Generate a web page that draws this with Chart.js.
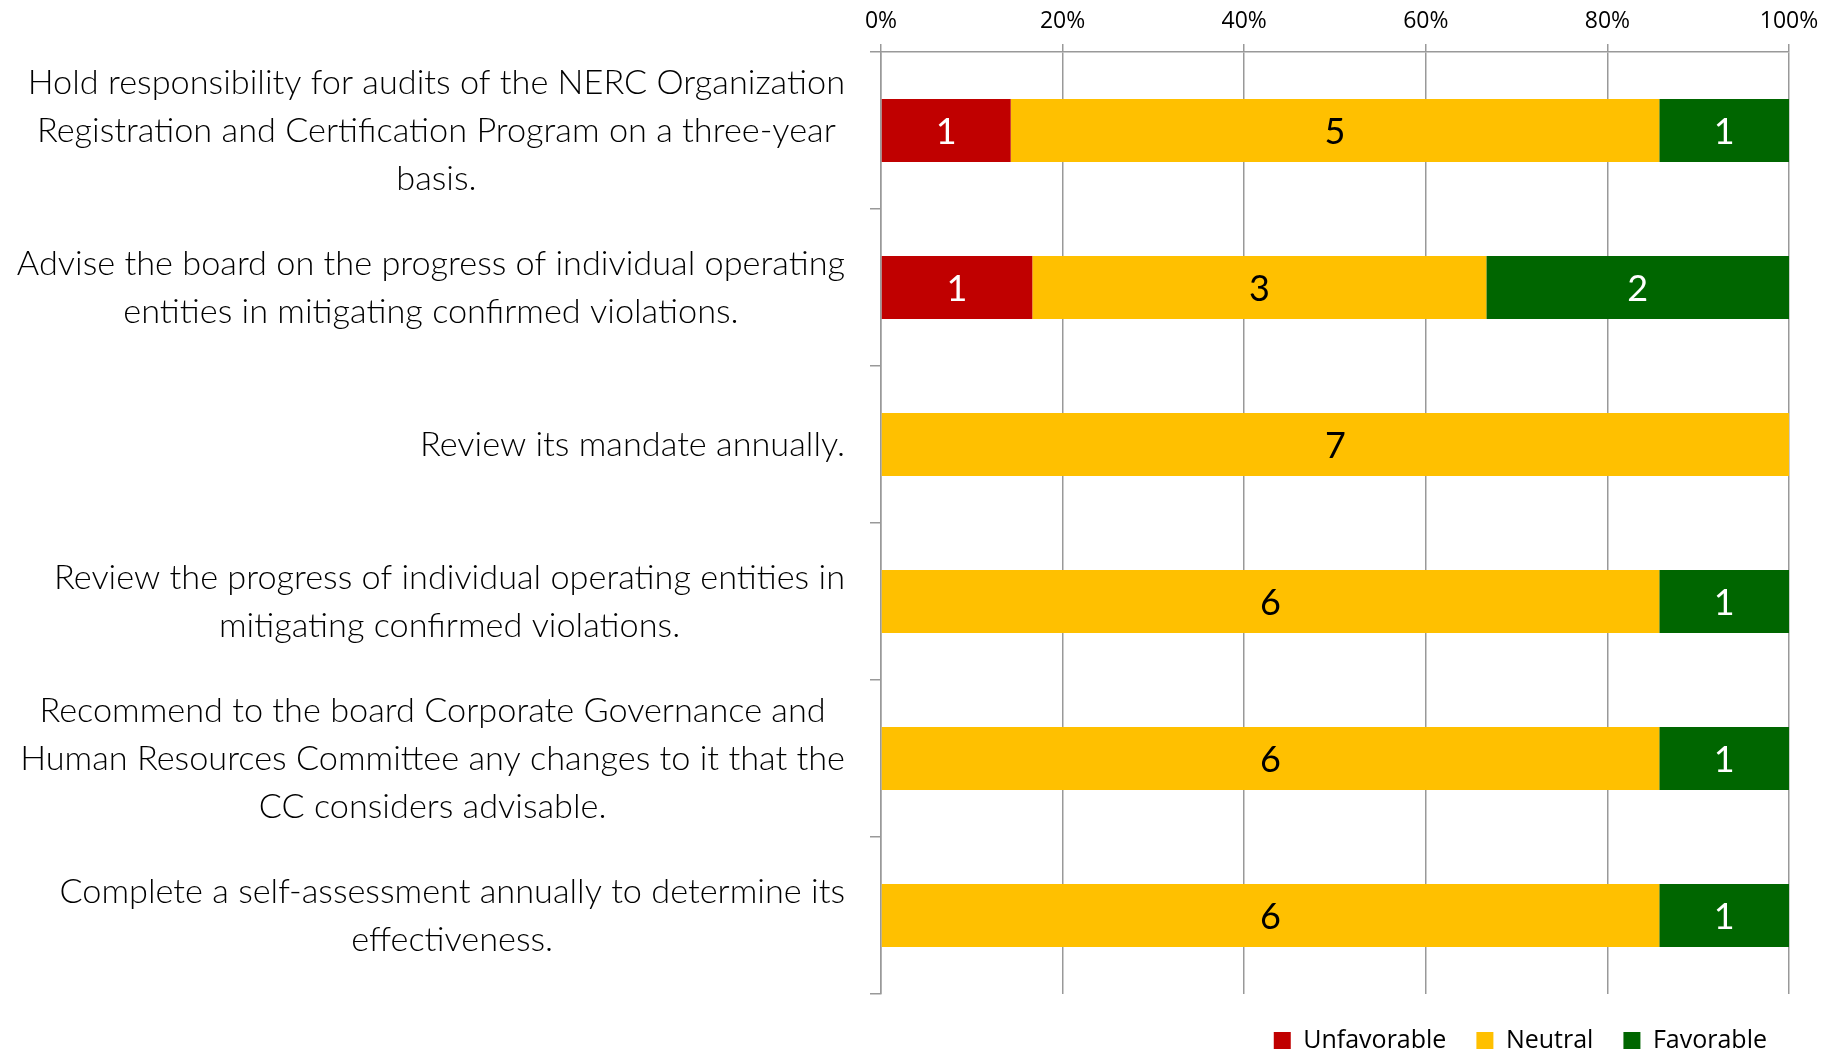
<!DOCTYPE html>
<html>
<head>
<meta charset="utf-8">
<script src="https://cdn.jsdelivr.net/npm/chart.js@4/dist/chart.umd.min.js"></script>
<style>
  html, body { margin: 0; padding: 0; background: #fff; }
  canvas { display: block; }
</style>
</head>
<body>
<canvas id="chart" width="1837" height="1055"></canvas>
<script>
// categories, one array of lines per bar
const categories = [
  ["Hold responsibility for audits of the NERC Organization", "Registration and Certification Program on a three-year", "basis."],
  ["Advise the board on the progress of individual operating", "entities in mitigating confirmed violations."],
  ["Review its mandate annually."],
  ["Review the progress of individual operating entities in", "mitigating confirmed violations."],
  ["Recommend to the board Corporate Governance and", "Human Resources Committee any changes to it that the", "CC considers advisable."],
  ["Complete a self-assessment annually to determine its", "effectiveness."]
];

// response counts
const unfavorable = [1, 1, 0, 0, 0, 0];
const neutral     = [5, 3, 7, 6, 6, 6];
const favorable   = [1, 2, 0, 1, 1, 1];

const xTicks = [0, 20, 40, 60, 80, 100];

const totals = categories.map((c, i) => unfavorable[i] + neutral[i] + favorable[i]);
function pct(arr) {
  return arr.map((v, i) => v / totals[i] * 100);
}

const labelFont = "300 34.3px Lato";
const valueFont = "36px Lato";
const axisFont = "Open Sans";

// category labels: block right-aligned to the axis, lines centered inside the block
const categoryLabels = {
  id: 'categoryLabels',
  afterDraw(chart) {
    const ctx = chart.ctx;
    const y = chart.scales.y;
    const right = chart.chartArea.left - 36;
    ctx.save();
    ctx.font = labelFont;
    ctx.fillStyle = '#000';
    ctx.textAlign = 'center';
    ctx.textBaseline = 'middle';
    categories.forEach(function(lines, i) {
      let w = 0;
      lines.forEach(l => { w = Math.max(w, ctx.measureText(l).width); });
      const cx = right - w / 2;
      const cy = y.getPixelForValue(i);
      lines.forEach(function(l, j) {
        ctx.fillText(l, cx, cy + (j - (lines.length - 1) / 2) * 48);
      });
    });
    ctx.restore();
  }
};

// count inside each segment
const valueLabels = {
  id: 'valueLabels',
  afterDatasetsDraw(chart) {
    const ctx = chart.ctx;
    ctx.save();
    ctx.font = valueFont;
    ctx.textAlign = 'center';
    ctx.textBaseline = 'middle';
    chart.data.datasets.forEach(function(ds, di) {
      const meta = chart.getDatasetMeta(di);
      meta.data.forEach(function(el, i) {
        const count = ds.counts[i];
        if (!count) return;
        const p = el.getCenterPoint();
        ctx.fillStyle = ds.textColor;
        ctx.fillText(count, p.x, p.y + 2);
      });
    });
    ctx.restore();
  }
};

// nudge the legend right/down of its default box
const legendShift = {
  id: 'legendShift',
  afterLayout(chart) {
    chart.legend.left += 8;
    chart.legend.right += 8;
    chart.legend.top += 4;
    chart.legend.bottom += 4;
  }
};

new Chart(document.getElementById("chart"), {
  type: 'bar',
  data: {
    labels: categories.map(c => c.join(' ')),
    datasets: [{
        label: "Unfavorable",
        data: pct(unfavorable),
        counts: unfavorable,
        backgroundColor: "#C00000",
        textColor: "#fff"
      }, {
        label: "Neutral",
        data: pct(neutral),
        counts: neutral,
        backgroundColor: "#FFC000",
        textColor: "#000"
      }, {
        label: "Favorable",
        data: pct(favorable),
        counts: favorable,
        backgroundColor: "#006600",
        textColor: "#fff"
      }
    ]
  },
  plugins: [categoryLabels, valueLabels, legendShift],
  options: {
    indexAxis: 'y',
    responsive: false,
    animation: false,
    devicePixelRatio: 1,
    categoryPercentage: 1,
    barPercentage: 0.4,
    layout: {
      padding: { left: 0, right: 48, top: 0, bottom: -4 }
    },
    scales: {
      x: {
        position: 'top',
        stacked: true,
        min: 0,
        max: 100,
        afterBuildTicks: function(scale) {
          scale.ticks = xTicks.map(v => ({ value: v }));
        },
        afterFit: function(scale) {
          scale.height = 52;
        },
        ticks: {
          callback: v => v + '%',
          color: '#000',
          font: { family: axisFont, size: 23 },
          padding: 9
        },
        grid: {
          color: '#999',
          lineWidth: 1.5,
          tickLength: 8
        },
        border: { color: '#999', width: 1.5 }
      },
      y: {
        stacked: true,
        afterFit: function(scale) {
          scale.width = 881;
        },
        ticks: { display: false },
        grid: {
          drawOnChartArea: false,
          offset: true,
          color: '#999',
          lineWidth: 1.5,
          tickLength: 11
        },
        border: { color: '#999', width: 1.5 }
      }
    },
    plugins: {
      tooltip: { enabled: false },
      legend: {
        position: 'bottom',
        align: 'end',
        labels: {
          color: '#000',
          font: { family: axisFont, size: 25 },
          boxWidth: 17,
          boxHeight: 17,
          padding: 30
        }
      }
    }
  }
});
</script>
</body>
</html>
